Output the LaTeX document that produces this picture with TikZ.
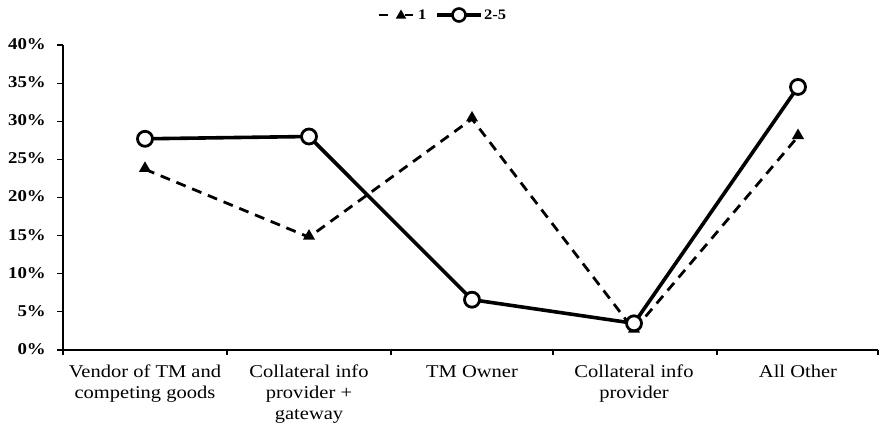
\documentclass[tikz,border=0pt]{standalone}
\usepackage{fontspec}
\setmainfont{Liberation Serif}
\newfontfamily\chartfont[FakeStretch=1.14]{Liberation Serif}
\usetikzlibrary{shapes.geometric}
\begin{document}
\begin{tikzpicture}[x=1pt,y=-1pt,
  axisline/.style={line width=1.3pt,black},
  tickline/.style={line width=1.1pt,black},
  ylab/.style={anchor=east,font=\chartfont\bfseries\fontsize{16.5}{18}\selectfont,inner sep=0pt},
  xlab/.style={anchor=north,align=center,font=\chartfont\fontsize{18}{21}\selectfont,inner sep=0pt},
  legtext/.style={anchor=west,font=\chartfont\bfseries\fontsize{14.5}{16}\selectfont,inner sep=0pt},
  serone/.style={line width=2.8pt,dash pattern=on 10pt off 7pt,black},
  sertwo/.style={line width=3.6pt,black,line join=round},
  trimark/.style={regular polygon,regular polygon sides=3,fill=black,draw=none,minimum size=14pt,inner sep=0pt},
  circmark/.style={circle,draw=black,fill=white,line width=2.8pt,minimum size=15pt,inner sep=0pt}
]
\useasboundingbox (0,0) rectangle (880,432);
% axes
\coordinate (yt) at (63,45);
\coordinate (o) at (63,350);
\coordinate (xe) at (878,350);
\draw[axisline] (yt) -- (o) -- (xe);
% y ticks and labels
\foreach \v/\t in {0/0\%,5/5\%,10/10\%,15/15\%,20/20\%,25/25\%,30/30\%,35/35\%,40/40\%}{
  \coordinate (yk\v) at (63,{350-\v*7.625});
  \draw[tickline] (yk\v) -- ++(-6,0);
  \node[ylab] (yl\v) at ([xshift=-17pt,yshift=1pt]yk\v) {\t};
}
% x ticks
\foreach \i/\x in {1/63,2/227,3/391,4/553,5/717,6/878}{
  \coordinate (xk\i) at (\x,350);
  \draw[tickline] (xk\i) -- ++(0,5);
}
% x labels
\node[xlab] (c1) at (145,365) {Vendor of TM and\\competing goods};
\node[xlab] (c2) at (309,365) {Collateral info\\provider +\\gateway};
\node[xlab] (c3) at (472,365) {TM Owner};
\node[xlab] (c4) at (634,365) {Collateral info\\provider};
\node[xlab] (c5) at (798,365) {All Other};
% data points
\foreach \i/\x/\a/\b in {1/145/23.7/27.7,2/309/14.8/28.0,3/472/30.3/6.6,4/634/2.6/3.5,5/798/28.0/34.5}{
  \coordinate (a\i) at (\x,{350-\a*7.625});
  \coordinate (b\i) at (\x,{350-\b*7.625});
}
\draw[serone] (a1) -- (a2) -- (a3) -- (a4) -- (a5);
\draw[sertwo] (b1) -- (b2) -- (b3) -- (b4) -- (b5);
\foreach \i in {1,...,5}{
  \node[trimark] (ta\i) at ([yshift=1pt]a\i) {};
}
\foreach \i in {1,...,5}{
  \node[circmark] (cb\i) at (b\i) {};
}
% legend
\coordinate (l1s) at (379,15);
\coordinate (l1e) at (413,15);
\coordinate (l2s) at (437,15);
\coordinate (l2e) at (481,15);
\draw[line width=2.8pt] (l1s) -- ++(9,0);
\draw[line width=2.8pt] (l1e) -- ++(-8,0);
\node[trimark,minimum size=12pt] (lt) at (401,15.5) {};
\node[legtext] (ll1) at (418,15) {1};
\draw[sertwo,line width=3.4pt] (l2s) -- (l2e);
\node[circmark,minimum size=13pt,line width=2.6pt] (lc) at (459,15) {};
\node[legtext] (ll2) at (484,15) {2-5};
\end{tikzpicture}
\end{document}
